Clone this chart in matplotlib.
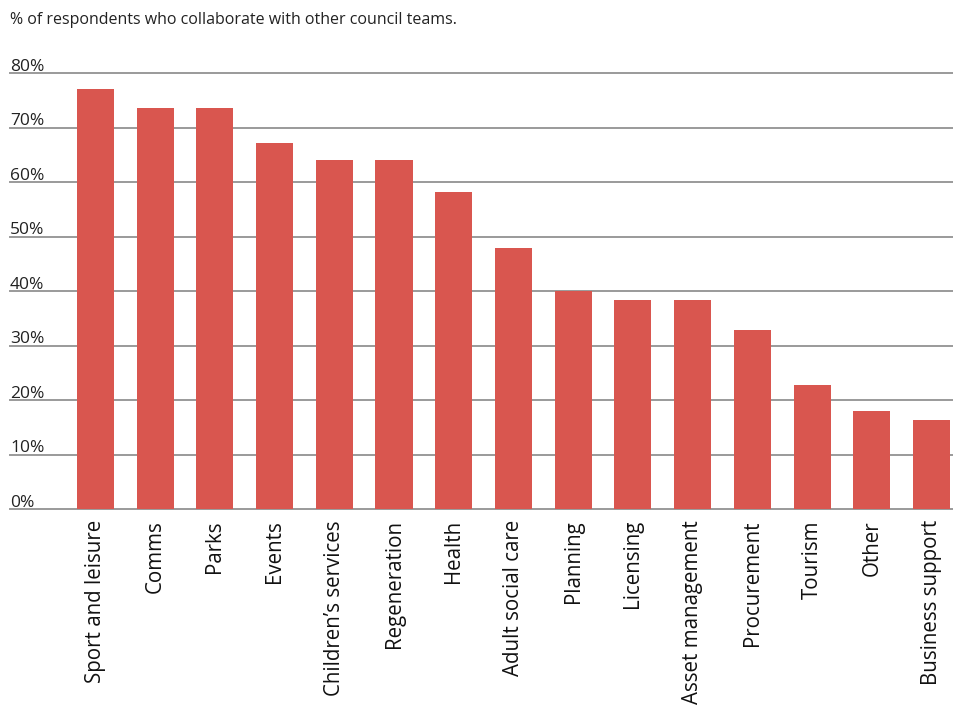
import matplotlib
matplotlib.use("Agg")
import matplotlib.pyplot as plt
from matplotlib.transforms import blended_transform_factory

plt.rcParams['font.family'] = ['Open Sans', 'DejaVu Sans']

categories = ["Sport and leisure", "Comms", "Parks", "Events", "Children\u2019s services",
              "Regeneration", "Health", "Adult social care", "Planning", "Licensing",
              "Asset management", "Procurement", "Tourism", "Other", "Business support"]
values = [77.0, 73.5, 73.5, 67.2, 64.1, 64.1, 58.2, 47.8, 40.0, 38.3, 38.3, 32.8, 22.7, 18.0, 16.4]
y_ticks = [0, 10, 20, 30, 40, 50, 60, 70, 80]
y_tick_labels = ["0%", "10%", "20%", "30%", "40%", "50%", "60%", "70%", "80%"]
title = "% of respondents who collaborate with other council teams."

W, H = 954, 711
fig = plt.figure(figsize=(W / 100, H / 100), dpi=100)
left_px, right_px, top_px, bottom_px = 10, 954, 73, 509
ax = fig.add_axes([left_px / W, 1 - bottom_px / H,
                   (right_px - left_px) / W, (bottom_px - top_px) / H])

x = list(range(len(categories)))
ax.bar(x, values, width=0.62, color="#D9564F", zorder=3)

ax.set_xlim(-1.43, len(categories) - 1 + 0.377)
ax.set_ylim(0, 80)

for v in y_ticks:
    ax.axhline(v, color="#9a9a9a", linewidth=1.4, zorder=1, clip_on=False)

trans = blended_transform_factory(ax.transAxes, ax.transData)
for v, lab in zip(y_ticks, y_tick_labels):
    ax.text(0.0, v + 0.45, lab, transform=trans, ha="left", va="baseline",
            fontsize=12.5, color="#222222")

ax.set_yticks([])
ax.set_xticks(x)
ax.set_xticklabels(categories, rotation=90, fontsize=14.8, color="#111111",
                   va="top", ha="center")
ax.tick_params(axis="x", length=0, pad=8)
for s in ax.spines.values():
    s.set_visible(False)

fig.text(10 / W, 1 - 20 / H, title, ha="left", va="center", fontsize=11.5, color="#222222")

fig.savefig("out.png", dpi=100)
